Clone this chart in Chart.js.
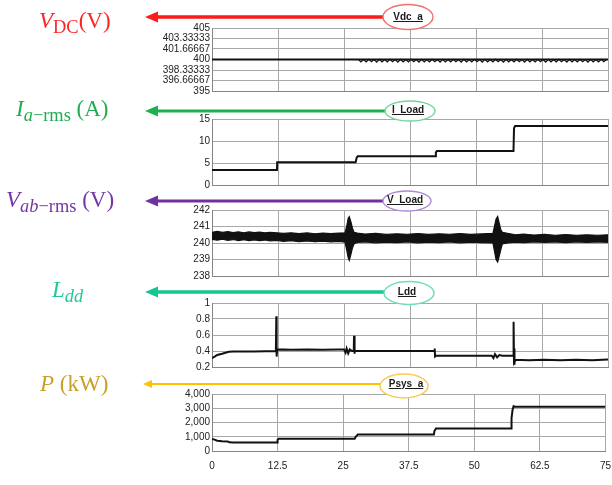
<!DOCTYPE html>
<html>
<head>
<meta charset="utf-8">
<script src="https://cdn.jsdelivr.net/npm/chart.js@4.4.1/dist/chart.umd.min.js"></script>
<style>
html,body{margin:0;padding:0;background:#fff;width:612px;height:485px;overflow:hidden}
#wrap{position:relative;width:612px;height:485px;overflow:hidden;background:#fff}
canvas{position:absolute;left:150px}
.lbl{position:absolute;font-family:"Liberation Serif","DejaVu Serif",serif;font-size:23px;line-height:1;white-space:nowrap;transform:translateY(-50%)}
.lbl sub{font-size:0.8em;vertical-align:baseline;position:relative;top:0.28em}
.tag{position:absolute;font-family:"Liberation Sans",Arial,sans-serif;font-size:10px;font-weight:bold;line-height:1;color:#1a1a1a;text-decoration:underline;white-space:pre;transform:translate(-50%,-50%)}
svg{position:absolute;left:0;top:0}
</style>
</head>
<body>
<div id="wrap">
  <canvas id="c1" width="470" height="79" style="top:20px"></canvas>
  <canvas id="c2" width="470" height="82" style="top:111px"></canvas>
  <canvas id="c3" width="470" height="82" style="top:202px"></canvas>
  <canvas id="c4" width="470" height="80" style="top:295px"></canvas>
  <canvas id="c5" width="470" height="99" style="top:386px"></canvas>

  <svg width="612" height="485" viewBox="0 0 612 485">
    <line x1="155" y1="17" x2="384" y2="17" stroke="#ff1a1a" stroke-width="3.5"/>
    <polygon points="145,17 158,11.5 158,22.5" fill="#ff1a1a"/>
    <line x1="155" y1="111" x2="386" y2="111" stroke="#1eb050" stroke-width="3"/>
    <polygon points="145,111 158,105.5 158,116.5" fill="#1eb050"/>
    <line x1="155" y1="201" x2="383" y2="201" stroke="#7030a0" stroke-width="3"/>
    <polygon points="145,201 158,195.5 158,206.5" fill="#7030a0"/>
    <line x1="155" y1="292" x2="385" y2="292" stroke="#14c690" stroke-width="3.5"/>
    <polygon points="145,292 158,286.5 158,297.5" fill="#14c690"/>
    <line x1="150" y1="384" x2="380" y2="384" stroke="#ffc000" stroke-width="2"/>
    <polygon points="143,384 152,380 152,388" fill="#ffc000"/>
    <ellipse cx="408" cy="17" rx="25" ry="12.5" fill="#fff" stroke="#f07070" stroke-width="1.4"/>
    <ellipse cx="410" cy="111" rx="25" ry="10" fill="#fff" stroke="#74d49a" stroke-width="1.4"/>
    <ellipse cx="407" cy="201" rx="24" ry="10" fill="#fff" stroke="#ad8ad4" stroke-width="1.4"/>
    <ellipse cx="409" cy="293" rx="25" ry="11.5" fill="#fff" stroke="#6fdcbd" stroke-width="1.4"/>
    <ellipse cx="404" cy="386" rx="24" ry="12" fill="#fff" stroke="#f6cc55" stroke-width="1.4"/>
  </svg>

  <div class="tag" style="left:408px;top:17px">Vdc_a</div>
  <div class="tag" style="left:408px;top:110px">I_Load</div>
  <div class="tag" style="left:405px;top:200px">V_Load</div>
  <div class="tag" style="left:407px;top:292px">Ldd</div>
  <div class="tag" style="left:406px;top:384px">Psys_a</div>

  <div class="lbl" style="left:39px;top:20px;color:#ff2525"><i>V</i><sub>DC</sub>(V)</div>
  <div class="lbl" style="left:16px;top:108px;color:#22ac52"><i>I</i><sub><i>a</i>−rms</sub> (A)</div>
  <div class="lbl" style="left:6px;top:199px;color:#7336a6"><i>V</i><sub><i>ab</i>−rms</sub> (V)</div>
  <div class="lbl" style="left:52px;top:289px;color:#25c79a"><i>L</i><sub><i>dd</i></sub></div>
  <div class="lbl" style="left:40px;top:383px;color:#c9a028"><i>P</i> (kW)</div>
</div>

<script>
// ---------- shared x axis ----------
const xTicks = [0, 12.5, 25, 37.5, 50, 62.5, 75];
const xTickLabels = ['0', '12.5', '25', '37.5', '50', '62.5', '75'];

// ---------- Vdc_a ----------
const vdcTicks = [395, 396.66667, 398.33333, 400, 401.66667, 403.33333, 405];
const vdcTickLabels = ['395', '396.66667', '398.33333', '400', '401.66667', '403.33333', '405'];
const vdcTime = [0, 27.7, 75];
const vdcValue = [400, 400, 400];
const vdcRippleStart = 27.7;
const vdcRippleStep = 0.5;
const vdcRipple = [
  400.02,399.62,400.0,399.6,400.03,399.66,400.0,399.58,400.02,399.63,
  400.0,399.6,400.04,399.64,400.0,399.57,400.02,399.62,400.0,399.6,
  400.03,399.65,400.0,399.59,400.02,399.62,400.0,399.6,400.03,399.64,
  400.0,399.58,400.02,399.63,400.0,399.6,400.04,399.65,400.0,399.57,
  400.02,399.62,400.0,399.6,400.03,399.66,400.0,399.58,400.02,399.63,
  400.0,399.6,400.04,399.64,400.0,399.57,400.02,399.62,400.0,399.6,
  400.03,399.65,400.0,399.59,400.02,399.62,400.0,399.6,400.03,399.64,
  400.0,399.58,400.02,399.63,400.0,399.6,400.04,399.65,400.0,399.57,
  400.02,399.62,400.0,399.6,400.03,399.66,400.0,399.58,400.02,399.63,
  400.0,399.6,400.04,399.64,400.0
];

// ---------- I_Load ----------
const iLoadTicks = [0, 5, 10, 15];
const iLoadTickLabels = ['0', '5', '10', '15'];
const iLoadTime  = [0, 12.3, 12.35, 27.2, 27.4, 27.6, 42.3, 42.4, 42.6, 57.1, 57.2, 57.4, 75];
const iLoadValue = [3.4, 3.4, 5.15, 5.15, 6.2, 6.55, 6.55, 7.4, 7.7, 7.7, 12.9, 13.4, 13.4];

// ---------- V_Load (band envelope) ----------
const vLoadTicks = [238, 239, 240, 241, 242];
const vLoadTickLabels = ['238', '239', '240', '241', '242'];
const vLoadTime = [0, 1, 2, 3, 4, 5, 6, 7, 8, 9, 10, 11, 12.3, 13.5, 15, 16.5, 18, 19.5, 21, 22.5, 24,
                   25.2, 25.5, 25.8, 26.0, 26.3, 26.6, 26.9, 27.5, 29, 31, 33, 35, 37, 39, 41, 43, 45, 47, 49, 51,
                   53.2, 53.5, 53.8, 54.1, 54.4, 54.7, 55.0, 56, 57.5, 59, 61, 63, 65, 67, 69, 71, 73, 75];
const vLoadHigh = [240.65, 240.7, 240.64, 240.69, 240.63, 240.68, 240.62, 240.67, 240.63, 240.66, 240.62, 240.65, 240.62,
                   240.58, 240.62, 240.57, 240.61, 240.56, 240.6, 240.57, 240.6,
                   240.62, 241.0, 241.5, 241.6, 241.3, 240.9, 240.65, 240.6, 240.54, 240.58, 240.52, 240.56, 240.53,
                   240.57, 240.52, 240.56, 240.53, 240.57, 240.52, 240.55,
                   240.58, 241.0, 241.45, 241.6, 241.2, 240.8, 240.65, 240.58, 240.5, 240.54, 240.48, 240.52, 240.47,
                   240.51, 240.47, 240.5, 240.47, 240.5];
const vLoadLow  = [240.22, 240.17, 240.23, 240.16, 240.21, 240.15, 240.2, 240.14, 240.19, 240.15, 240.18, 240.13, 240.15,
                   240.1, 240.14, 240.08, 240.12, 240.08, 240.11, 240.07, 240.1,
                   240.05, 239.6, 239.1, 238.95, 239.3, 239.7, 239.95, 240.03, 240.06, 240.01, 240.05, 240.02, 240.06,
                   240.01, 240.05, 240.02, 240.06, 240.01, 240.05, 240.02,
                   240.0, 239.5, 239.0, 238.85, 239.2, 239.6, 239.95, 240.0, 240.05, 240.02, 240.06, 240.03, 240.06,
                   240.02, 240.06, 240.03, 240.06, 240.04];

// ---------- Ldd ----------
const lddTicks = [0.2, 0.4, 0.6, 0.8, 1];
const lddTickLabels = ['0.2', '0.4', '0.6', '0.8', '1'];
const lddTime  = [0, 0.5, 1.0, 1.9, 3.2, 4.1, 8, 12.1, 12.18, 12.24, 12.35, 15, 18, 21, 24, 25.0, 25.3, 25.5, 25.8, 26.1,
                  26.5, 26.85, 26.9, 26.96, 27.05, 30, 35, 40, 42.1, 42.18, 42.25, 42.45, 46, 50, 53.0, 53.3, 53.6,
                  54.0, 54.4, 55.0, 57.05, 57.12, 57.2, 57.26, 57.32, 57.5, 60, 63, 66, 69, 72, 75];
const lddValue = [0.31, 0.33, 0.35, 0.365, 0.39, 0.395, 0.395, 0.40, 0.835, 0.33, 0.42, 0.415, 0.42, 0.415, 0.42, 0.42,
                  0.38, 0.43, 0.37, 0.42, 0.40, 0.40, 0.59, 0.365, 0.40, 0.40, 0.40, 0.40, 0.40, 0.43, 0.33, 0.34,
                  0.34, 0.34, 0.34, 0.31, 0.36, 0.32, 0.35, 0.34, 0.34, 0.765, 0.24, 0.43, 0.26, 0.29, 0.285, 0.29,
                  0.285, 0.29, 0.285, 0.295];

// ---------- Psys_a ----------
const psysTicks = [0, 1000, 2000, 3000, 4000];
const psysTickLabels = ['0', '1,000', '2,000', '3,000', '4,000'];
const psysTime  = [0, 0.5, 1.0, 1.9, 3.0, 3.3, 4.0, 12.4, 12.5, 12.7, 27.2, 27.4, 27.8, 42.3, 42.4, 42.7, 57.0, 57.1, 57.3, 57.5, 57.8, 75];
const psysValue = [850, 800, 720, 680, 670, 610, 600, 600, 780, 860, 860, 1000, 1150, 1150, 1400, 1580, 1580, 2300, 2900, 3150, 3100, 3100];

// ---------- helpers ----------
const pts = (xs, ys) => ys.map((y, i) => ({ x: xs[i], y }));
const ptsStep = (x0, dx, ys) => ys.map((y, i) => ({ x: x0 + i * dx, y }));
const TICK_FONT = { family: '"Liberation Sans", Arial, sans-serif', size: 10 };
const GRID = { color: '#a8a8a8', lineWidth: 1, drawTicks: false };
const BORDER = { color: '#858585', width: 1 };

function lineSet(data, extra) {
  return Object.assign({ data, borderColor: '#111', borderWidth: 2, pointRadius: 0, fill: false, tension: 0 }, extra || {});
}

function panel(id, datasets, yMin, yMax, yTicks, yLabels, showX) {
  return new Chart(document.getElementById(id), {
    type: 'line',
    data: { datasets },
    options: {
      responsive: false,
      animation: false,
      events: [],
      layout: { padding: { top: 8, right: 12, bottom: showX ? 4 : 8, left: 0 } },
      plugins: { legend: { display: false }, tooltip: { enabled: false } },
      scales: {
        x: {
          type: 'linear', min: 0, max: 75,
          afterBuildTicks: s => { s.ticks = xTicks.map(v => ({ value: v })); },
          ticks: { display: showX, padding: 9, autoSkip: false, maxRotation: 0, font: TICK_FONT, color: '#222',
                   callback: (v, i) => xTickLabels[i] },
          grid: GRID, border: BORDER
        },
        y: {
          type: 'linear', min: yMin, max: yMax,
          afterBuildTicks: s => { s.ticks = yTicks.map(v => ({ value: v })); },
          afterFit: s => { s.width = 62; },
          ticks: { padding: 2, autoSkip: false, font: TICK_FONT, color: '#222',
                   callback: (v, i) => yLabels[i] },
          grid: GRID, border: BORDER
        }
      }
    }
  });
}

panel('c1', [
  lineSet(pts(vdcTime, vdcValue)),
  lineSet(ptsStep(vdcRippleStart, vdcRippleStep, vdcRipple), { borderWidth: 1.2 })
], 395, 405, vdcTicks, vdcTickLabels, false);

panel('c2', [lineSet(pts(iLoadTime, iLoadValue))], 0, 15, iLoadTicks, iLoadTickLabels, false);

panel('c3', [
  lineSet(pts(vLoadTime, vLoadHigh), { borderWidth: 1.2 }),
  lineSet(pts(vLoadTime, vLoadLow), { borderWidth: 1.2, fill: '-1', backgroundColor: '#111' })
], 238, 242, vLoadTicks, vLoadTickLabels, false);

panel('c4', [lineSet(pts(lddTime, lddValue))], 0.2, 1, lddTicks, lddTickLabels, false);

panel('c5', [lineSet(pts(psysTime, psysValue))], 0, 4000, psysTicks, psysTickLabels, true);
</script>
</body>
</html>
